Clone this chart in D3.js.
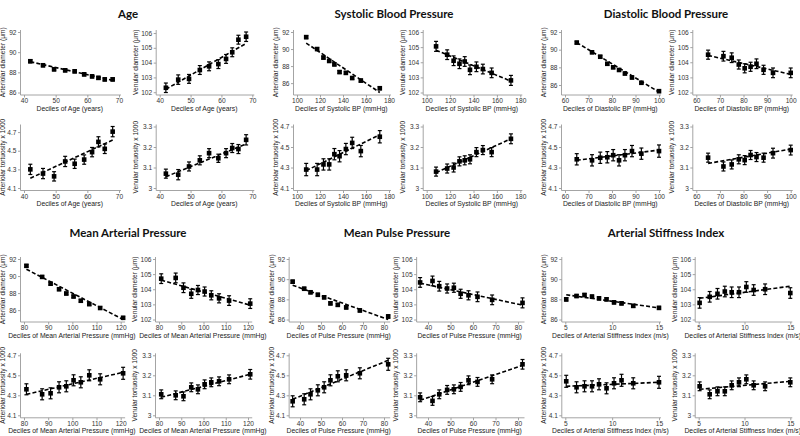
<!DOCTYPE html>
<html><head><meta charset="utf-8">
<script src="https://cdn.jsdelivr.net/npm/d3@7"></script>
<style>body{margin:0;background:#fff}svg{display:block}</style>
</head><body>
<svg id="c" width="800" height="436"></svg>
<script>
// ---------------- DATA ----------------
const groupTitles = ["Age","Systolic Blood Pressure","Diastolic Blood Pressure","Mean Arterial Pressure","Mean Pulse Pressure","Arterial Stiffness Index"];
const xTitles = ["Deciles of Age (years)","Deciles of Systolic BP (mmHg)","Deciles of Diastolic BP (mmHg)","Deciles of Mean Arterial Pressure (mmHg)","Deciles of Pulse Pressure (mmHg)","Deciles of Arterial Stiffness Index (m/s)"];
const yTitles = ["Arteriolar diameter (\u03bcm)","Venular diameter (\u03bcm)","Arteriolar tortuosity x 1000","Venular tortuosity x 1000"];

const ageTicks = [40,50,60,70];
const sbpTicks = [100,120,140,160,180];
const dbpTicks = [60,70,80,90,100];
const mapTicks = [80,90,100,110,120];
const ppTicks  = [40,50,60,70,80];
const asiTicks = [5,10,15];
const artDiamTicks = [86,88,90,92];
const venDiamTicks = [102,103,104,105,106];
const artTortTicks = [4.1,4.3,4.5,4.7];
const venTortTicks = [3,3.1,3.2,3.3];

const ageX = [42,46,49.5,53,56,59,61.5,63.5,65.5,68];
const sbpX = [108,117.5,123,128,132.5,137,142.5,148,155.5,172];
const dbpX = [65,71.5,75,78,80.5,83,85.5,88.5,92.5,100];
const mapX = [81,87.5,91,94.5,97.5,100.5,103.5,107,111.5,121];
const ppX  = [36.5,42,45,48.5,51.5,54.5,58,62,68.5,82];
const asiX = [5.1,6.2,7.05,7.85,8.6,9.4,10.2,11.0,12.25,15.0];

// Age
const ageArtDiam   = [89.1,88.7,88.3,88.2,88.1,87.8,87.6,87.45,87.3,87.3];
const ageArtDiamCI = [0.15,0.15,0.15,0.15,0.15,0.15,0.15,0.15,0.15,0.15];
const ageArtDiamFit= [89.05,87.2];
const ageVenDiam   = [102.3,102.85,102.9,103.5,103.75,103.9,104.25,104.7,105.55,105.75];
const ageVenDiamCI = [0.32,0.32,0.3,0.3,0.3,0.3,0.3,0.3,0.3,0.32];
const ageVenDiamFit= [102.2,105.3];
const ageArtTort   = [4.30,4.255,4.225,4.385,4.36,4.405,4.485,4.595,4.52,4.705];
const ageArtTortCI = [0.055,0.055,0.05,0.055,0.05,0.05,0.05,0.055,0.05,0.055];
const ageArtTortFit= [4.205,4.615];
const ageVenTort   = [3.07,3.065,3.105,3.135,3.17,3.145,3.17,3.195,3.19,3.235];
const ageVenTortCI = [0.022,0.025,0.022,0.022,0.022,0.02,0.022,0.022,0.022,0.025];
const ageVenTortFit= [3.055,3.215];
// Systolic
const sbpArtDiam   = [91.4,90.0,89.0,88.6,88.2,87.3,87.2,86.6,86.3,85.4];
const sbpArtDiamCI = [0.18,0.17,0.17,0.17,0.17,0.17,0.17,0.17,0.17,0.18];
const sbpArtDiamFit= [90.7,84.9];
const sbpVenDiam   = [105.05,104.5,104.1,103.9,104.05,103.5,103.7,103.55,103.3,102.8];
const sbpVenDiamCI = [0.33,0.32,0.32,0.32,0.32,0.32,0.32,0.32,0.32,0.33];
const sbpVenDiamFit= [104.8,102.75];
const sbpArtTort   = [4.28,4.28,4.33,4.33,4.43,4.41,4.48,4.54,4.46,4.60];
const sbpArtTortCI = [0.06,0.06,0.055,0.055,0.055,0.055,0.055,0.055,0.055,0.06];
const sbpArtTortFit= [4.27,4.62];
const sbpVenTort   = [3.08,3.095,3.10,3.13,3.135,3.14,3.175,3.185,3.175,3.24];
const sbpVenTortCI = [0.022,0.022,0.022,0.022,0.022,0.022,0.022,0.022,0.022,0.024];
const sbpVenTortFit= [3.075,3.24];
// Diastolic
const dbpArtDiam   = [90.8,89.7,89.2,88.4,88.0,87.7,87.3,86.85,86.25,85.3];
const dbpArtDiamCI = [0.15,0.15,0.15,0.15,0.15,0.15,0.15,0.15,0.15,0.15];
const dbpArtDiamFit= [90.8,85.2];
const dbpVenDiam   = [104.5,104.4,104.3,103.85,103.6,103.7,103.9,103.5,103.3,103.3];
const dbpVenDiamCI = [0.3,0.32,0.32,0.3,0.3,0.3,0.32,0.3,0.32,0.32];
const dbpVenDiamFit= [104.45,103.2];
const dbpArtTort   = [4.38,4.37,4.395,4.40,4.42,4.37,4.42,4.46,4.435,4.46];
const dbpArtTortCI = [0.055,0.055,0.055,0.055,0.055,0.055,0.055,0.055,0.055,0.06];
const dbpArtTortFit= [4.37,4.47];
const dbpVenTort   = [3.148,3.105,3.115,3.14,3.136,3.161,3.151,3.148,3.17,3.185];
const dbpVenTortCI = [0.022,0.022,0.022,0.022,0.022,0.022,0.022,0.022,0.024,0.024];
const dbpVenTortFit= [3.12,3.19];
// Mean arterial pressure
const mapArtDiam   = [91.2,89.9,89.1,88.45,87.95,87.6,87.1,86.7,86.25,85.1];
const mapArtDiamCI = [0.15,0.15,0.15,0.15,0.15,0.15,0.15,0.15,0.15,0.15];
const mapArtDiamFit= [90.8,84.9];
const mapVenDiam   = [104.7,104.75,104.1,103.7,103.95,103.85,103.6,103.4,103.25,103.05];
const mapVenDiamCI = [0.32,0.32,0.32,0.3,0.3,0.3,0.3,0.3,0.32,0.32];
const mapVenDiamFit= [104.6,102.95];
const mapArtTort   = [4.36,4.31,4.32,4.38,4.39,4.45,4.43,4.5,4.46,4.52];
const mapArtTortCI = [0.055,0.055,0.055,0.055,0.055,0.055,0.055,0.055,0.055,0.06];
const mapArtTortFit= [4.31,4.53];
const mapVenTort   = [3.105,3.10,3.095,3.14,3.13,3.155,3.165,3.17,3.18,3.205];
const mapVenTortCI = [0.022,0.022,0.022,0.022,0.022,0.022,0.022,0.022,0.022,0.024];
const mapVenTortFit= [3.09,3.205];
// Pulse pressure
const ppArtDiam    = [89.75,89.05,88.7,88.45,88.2,87.6,87.45,87.2,86.9,86.3];
const ppArtDiamCI  = [0.15,0.15,0.15,0.15,0.15,0.15,0.15,0.15,0.15,0.17];
const ppArtDiamFit = [89.4,86.0];
const ppVenDiam    = [104.45,104.55,104.2,104.05,104.1,103.7,103.6,103.5,103.3,103.1];
const ppVenDiamCI  = [0.32,0.32,0.32,0.3,0.3,0.3,0.3,0.32,0.32,0.33];
const ppVenDiamFit = [104.4,102.95];
const ppArtTort    = [4.24,4.26,4.31,4.35,4.38,4.45,4.49,4.50,4.52,4.61];
const ppArtTortCI  = [0.055,0.055,0.055,0.055,0.055,0.055,0.055,0.055,0.055,0.06];
const ppArtTortFit = [4.26,4.65];
const ppVenTort    = [3.09,3.072,3.105,3.127,3.13,3.142,3.175,3.167,3.18,3.255];
const ppVenTortCI  = [0.022,0.022,0.022,0.022,0.022,0.022,0.022,0.022,0.022,0.024];
const ppVenTortFit = [3.075,3.25];
// Arterial stiffness index
const asiArtDiam   = [88.0,88.33,88.43,88.27,88.1,88.0,87.7,87.6,87.35,87.15];
const asiArtDiamCI = [0.17,0.15,0.15,0.15,0.15,0.15,0.15,0.15,0.15,0.15];
const asiArtDiamFit= [88.45,87.15];
const asiVenDiam   = [103.1,103.5,103.7,103.85,103.8,103.8,104.15,103.95,104.0,103.75];
const asiVenDiamCI = [0.35,0.35,0.35,0.35,0.35,0.35,0.35,0.35,0.35,0.35];
const asiVenDiamFit= [103.4,104.2];
const asiArtTort   = [4.44,4.38,4.39,4.39,4.41,4.37,4.42,4.45,4.42,4.43];
const asiArtTortCI = [0.06,0.055,0.055,0.055,0.055,0.055,0.055,0.06,0.055,0.06];
const asiArtTortFit= [4.39,4.43];
const asiVenTort   = [3.145,3.105,3.12,3.12,3.15,3.165,3.18,3.15,3.145,3.165];
const asiVenTortCI = [0.022,0.022,0.022,0.022,0.022,0.022,0.022,0.022,0.022,0.022];
const asiVenTortFit= [3.13,3.17];

// ---------------- LAYOUT ----------------
const groups = [
  {x: ageX, ticks: ageTicks, left:[24,119],   right:[159.7,252.3], titleX:128, row:0,
   s:[[ageArtDiam,ageArtDiamCI,ageArtDiamFit],[ageVenDiam,ageVenDiamCI,ageVenDiamFit],[ageArtTort,ageArtTortCI,ageArtTortFit],[ageVenTort,ageVenTortCI,ageVenTortFit]]},
  {x: sbpX, ticks: sbpTicks, left:[297,389],  right:[426.7,520.3], titleX:394, row:0,
   s:[[sbpArtDiam,sbpArtDiamCI,sbpArtDiamFit],[sbpVenDiam,sbpVenDiamCI,sbpVenDiamFit],[sbpArtTort,sbpArtTortCI,sbpArtTortFit],[sbpVenTort,sbpVenTortCI,sbpVenTortFit]]},
  {x: dbpX, ticks: dbpTicks, left:[565,659],  right:[696.3,790.7], titleX:666, row:0,
   s:[[dbpArtDiam,dbpArtDiamCI,dbpArtDiamFit],[dbpVenDiam,dbpVenDiamCI,dbpVenDiamFit],[dbpArtTort,dbpArtTortCI,dbpArtTortFit],[dbpVenTort,dbpVenTortCI,dbpVenTortFit]]},
  {x: mapX, ticks: mapTicks, left:[24,120.7], right:[159,248],     titleX:128, row:1,
   s:[[mapArtDiam,mapArtDiamCI,mapArtDiamFit],[mapVenDiam,mapVenDiamCI,mapVenDiamFit],[mapArtTort,mapArtTortCI,mapArtTortFit],[mapVenTort,mapVenTortCI,mapVenTortFit]]},
  {x: ppX,  ticks: ppTicks,  left:[300,384],  right:[428,518],     titleX:397, row:1,
   s:[[ppArtDiam,ppArtDiamCI,ppArtDiamFit],[ppVenDiam,ppVenDiamCI,ppVenDiamFit],[ppArtTort,ppArtTortCI,ppArtTortFit],[ppVenTort,ppVenTortCI,ppVenTortFit]]},
  {x: asiX, ticks: asiTicks, left:[565.3,659],right:[698.7,790.3], titleX:666, row:1,
   s:[[asiArtDiam,asiArtDiamCI,asiArtDiamFit],[asiVenDiam,asiVenDiamCI,asiVenDiamFit],[asiArtTort,asiArtTortCI,asiArtTortFit],[asiVenTort,asiVenTortCI,asiVenTortFit]]}
];
const rowLayout = [
  {titleY:14,  diam:[32,92.5],  tort:[126.5,188]},
  {titleY:233, diam:[259,319.5], tort:[355.3,415.3]}
];
const yTickSets = [artDiamTicks, venDiamTicks, artTortTicks, venTortTicks];

const svg = d3.select("#c");
const FONT = "'Liberation Sans', Arial, sans-serif";
const AXC = "#9a9a9a";

function panel(g, xs, ys, ci, fit, xTicks, xPix, yr, yTicks, yTitle, xTitle, titleOff) {
  const x = d3.scaleLinear().domain([xTicks[0], xTicks[xTicks.length-1]]).range(xPix);
  const lo = Math.min(yTicks[0], d3.min(ys, (v,i)=>v-ci[i]), d3.min(fit));
  const hi = Math.max(yTicks[yTicks.length-1], d3.max(ys, (v,i)=>v+ci[i]), d3.max(fit));
  const y = d3.scaleLinear().domain([lo, hi]).range([yr[1], yr[0]]);
  const xMinPx = Math.min(x(xTicks[0]), x(d3.min(xs)));
  const xMaxPx = Math.max(x(xTicks[xTicks.length-1]), x(d3.max(xs)));
  const axX = xMinPx - 3.5, axY = yr[1] + 2.5;

  const ya = g.append("g").attr("transform",`translate(${axX},0)`)
    .call(d3.axisLeft(y).tickValues(yTicks).tickSize(2.5).tickPadding(1.5).tickFormat(d=>String(d)));
  ya.select(".domain").remove();
  ya.append("line").attr("x1",0).attr("x2",0).attr("y1",yr[0]-2).attr("y2",axY).attr("stroke",AXC).attr("stroke-width",0.9);
  const xa = g.append("g").attr("transform",`translate(0,${axY})`)
    .call(d3.axisBottom(x).tickValues(xTicks).tickSize(2.5).tickPadding(1).tickFormat(d=>String(d)));
  xa.select(".domain").remove();
  xa.append("line").attr("x1",axX).attr("x2",xMaxPx+2).attr("y1",0).attr("y2",0).attr("stroke",AXC).attr("stroke-width",0.9);
  [ya, xa].forEach(a=>{
    a.selectAll(".tick line").attr("stroke",AXC).attr("stroke-width",0.9);
    a.selectAll(".tick text").attr("font-family",FONT).attr("font-size","6.6px").attr("fill","#333");
  });
  g.append("text").attr("x",(axX+xMaxPx)/2).attr("y",axY+15.5).attr("text-anchor","middle")
    .attr("font-family",FONT).attr("font-size","6.8px").attr("fill","#222").text(xTitle);
  g.append("text").attr("transform",`translate(${axX-titleOff},${(yr[0]+yr[1])/2}) rotate(-90)`)
    .attr("text-anchor","middle").attr("font-family",FONT).attr("font-size","6.6px").attr("fill","#222").text(yTitle);

  g.append("line").attr("x1",x(xs[0])).attr("x2",x(xs[xs.length-1]))
    .attr("y1",y(fit[0])).attr("y2",y(fit[1]))
    .attr("stroke","#000").attr("stroke-width",1.6).attr("stroke-dasharray","4,2.2");
  const idx = d3.range(xs.length);
  const eb = g.append("g").attr("stroke","#000").attr("stroke-width",1.2);
  eb.selectAll("line.v").data(idx).join("line").attr("class","v")
    .attr("x1",i=>x(xs[i])).attr("x2",i=>x(xs[i])).attr("y1",i=>y(ys[i]-ci[i])).attr("y2",i=>y(ys[i]+ci[i]));
  eb.selectAll("line.t").data(idx).join("line").attr("class","t")
    .attr("x1",i=>x(xs[i])-2).attr("x2",i=>x(xs[i])+2).attr("y1",i=>y(ys[i]+ci[i])).attr("y2",i=>y(ys[i]+ci[i]));
  eb.selectAll("line.b").data(idx).join("line").attr("class","b")
    .attr("x1",i=>x(xs[i])-2).attr("x2",i=>x(xs[i])+2).attr("y1",i=>y(ys[i]-ci[i])).attr("y2",i=>y(ys[i]-ci[i]));
  g.append("g").selectAll("rect").data(idx).join("rect")
    .attr("x",i=>x(xs[i])-2.3).attr("y",i=>y(ys[i])-2.3).attr("width",4.6).attr("height",4.6).attr("fill","#000");
}

groups.forEach((G, gi) => {
  const R = rowLayout[G.row];
  svg.append("text").attr("x",G.titleX).attr("y",R.titleY).attr("dy","0.35em").attr("text-anchor","middle")
    .attr("font-family","Lato, 'Open Sans', sans-serif").attr("font-weight","bold").attr("font-size","11.5px")
    .attr("fill","#111").text(groupTitles[gi]);
  for (let k = 0; k < 4; k++) {
    const [ys, ci, fit] = G.s[k];
    const xPix = (k % 2 === 0) ? G.left : G.right;
    const yr = (k < 2) ? R.diam : R.tort;
    const titleOff = (k % 2 === 0) ? 15.5 : 18.5;
    panel(svg.append("g"), G.x, ys, ci, fit, G.ticks, xPix, yr, yTickSets[k], yTitles[k], xTitles[gi], titleOff);
  }
});
</script>
</body></html>
